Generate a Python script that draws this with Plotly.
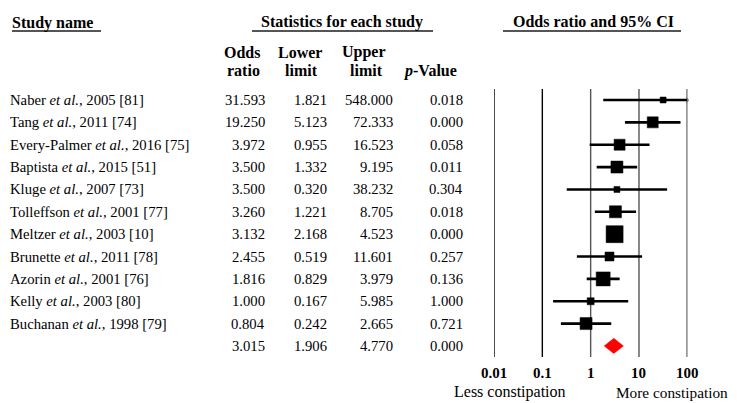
import math
import plotly.graph_objects as go

# ---------------- data ----------------
studies = [
    "Naber <i>et al.</i>, 2005 [81]",
    "Tang <i>et al.</i>, 2011 [74]",
    "Every-Palmer <i>et al.</i>, 2016 [75]",
    "Baptista <i>et al.</i>, 2015 [51]",
    "Kluge <i>et al.</i>, 2007 [73]",
    "Tolleffson <i>et al.</i>, 2001 [77]",
    "Meltzer <i>et al.</i>, 2003 [10]",
    "Brunette <i>et al.</i>, 2011 [78]",
    "Azorin <i>et al.</i>, 2001 [76]",
    "Kelly <i>et al.</i>, 2003 [80]",
    "Buchanan <i>et al.</i>, 1998 [79]",
]
odds = [31.593, 19.250, 3.972, 3.500, 3.500, 3.260, 3.132, 2.455, 1.816, 1.000, 0.804]
lower = [1.821, 5.123, 0.955, 1.332, 0.320, 1.221, 2.168, 0.519, 0.829, 0.167, 0.242]
upper = [548.000, 72.333, 16.523, 9.195, 38.232, 8.705, 4.523, 11.601, 3.979, 5.985, 2.665]
pvals = [0.018, 0.000, 0.058, 0.011, 0.304, 0.018, 0.000, 0.257, 0.136, 1.000, 0.721]
# relative study weight (drawn as box size)
weight = [6, 11, 11, 12, 6, 12, 17, 9, 14, 7, 12]

summary_or, summary_lo, summary_hi, summary_p = 3.015, 1.906, 4.770, 0.000

tick_vals = [0.01, 0.1, 1, 10, 100]
tick_text = ["0.01", "0.1", "1", "10", "100"]

# ---------------- layout helpers ----------------
WIN_W, WIN_H = 737, 403
OFF = 8                      # page body margin
W, H = WIN_W - OFF, WIN_H - OFF
FONT = "Liberation Serif, Times New Roman, serif"
AX_MIN, AX_MAX = 0.01, 100


def px_x(p):
    return (p - OFF) / W


def px_y(p):
    return 1 - (p - OFF) / H


n = len(studies)
rows = list(range(n))
sum_row = n

fig = go.Figure()

# reference vertical lines
black_x, black_y, grey_x, grey_y = [], [], [], []
for t in tick_vals:
    if t in (1, 10):
        grey_x += [t, t, None]
        grey_y += [-0.49, sum_row + 0.49, None]
    else:
        black_x += [t, t, None]
        black_y += [-0.49, sum_row + 0.49, None]
fig.add_trace(go.Scatter(x=black_x, y=black_y, mode="lines",
                         line=dict(color="black", width=1.4), hoverinfo="skip"))
fig.add_trace(go.Scatter(x=grey_x, y=grey_y, mode="lines",
                         line=dict(color="#555555", width=1.4), hoverinfo="skip"))

# confidence intervals
ci_x, ci_y = [], []
for i in rows:
    ci_x += [max(lower[i], AX_MIN), min(upper[i], AX_MAX), None]
    ci_y += [i, i, None]
fig.add_trace(go.Scatter(x=ci_x, y=ci_y, mode="lines",
                         line=dict(color="black", width=2.6), hoverinfo="skip"))

# truncated CI arrow
trunc_x = [AX_MAX for i in rows if upper[i] > AX_MAX]
trunc_y = [i for i in rows if upper[i] > AX_MAX]
fig.add_trace(go.Scatter(x=trunc_x, y=trunc_y, mode="text", text=["›"] * len(trunc_x),
                         textposition="middle center",
                         textfont=dict(family=FONT, size=14, color="#666666"),
                         hoverinfo="skip", cliponaxis=False))

# study boxes
fig.add_trace(go.Scatter(x=odds, y=rows, mode="markers",
                         marker=dict(symbol="square", size=weight, color="black",
                                     opacity=1, line=dict(width=0.5, color="black")),
                         hoverinfo="skip"))

# summary diamond
half = 0.34
fig.add_trace(go.Scatter(
    x=[summary_lo, summary_or, summary_hi, summary_or, summary_lo],
    y=[sum_row, sum_row - half, sum_row, sum_row + half, sum_row],
    mode="lines", fill="toself", fillcolor="#ff0000",
    line=dict(color="#ff0000", width=0.5), hoverinfo="skip"))

annotations = []


def add_text(text, x, y, xref="paper", yref="paper", xanchor="center",
             size=14.7, bold=False, color="black"):
    annotations.append(dict(
        text=f"<b>{text}</b>" if bold else text,
        x=x, y=y, xref=xref, yref=yref, xanchor=xanchor, yanchor="middle",
        showarrow=False, borderpad=0, borderwidth=0,
        font=dict(family=FONT, size=size, color=color)))


# table body
col_right = [265, 327, 393, 463]
for i in rows:
    add_text(studies[i], px_x(10), i, yref="y", xanchor="left")
    for v, xr in zip([odds[i], lower[i], upper[i], pvals[i]], col_right):
        add_text(f"{v:.3f}", px_x(xr), i, yref="y", xanchor="right")
for v, xr in zip([summary_or, summary_lo, summary_hi, summary_p], col_right):
    add_text(f"{v:.3f}", px_x(xr), sum_row, yref="y", xanchor="right")

# headers
HS = 16
add_text("Study name", px_x(12), px_y(23), xanchor="left", size=HS, bold=True)
add_text("Statistics for each study", px_x(342), px_y(22), size=HS, bold=True)
add_text("Odds ratio and 95% CI", px_x(593), px_y(22), size=HS, bold=True)
for label, cx in [("Odds", 242), ("Lower", 300), ("Upper", 364)]:
    add_text(label, px_x(cx), px_y(52), size=HS, bold=True)
for label, cx in [("ratio", 243), ("limit", 301), ("limit", 366)]:
    add_text(label, px_x(cx), px_y(71), size=HS, bold=True)
add_text("<i>p</i>-Value", px_x(430), px_y(71), size=HS, bold=True)

# axis tick labels (annotation x on a log axis is given in log10 units)
for tv, tt in zip(tick_vals, tick_text):
    add_text(tt, math.log10(tv), px_y(373), xref="x", size=15, bold=True)

add_text("Less constipation", px_x(510), px_y(392), size=16)
add_text("More constipation", px_x(616), px_y(392), xanchor="left", size=15.3)

shapes = []
for x0, x1 in [(12, 101), (252, 433), (503, 681)]:
    shapes.append(dict(type="line", xref="paper", yref="paper",
                       x0=px_x(x0), x1=px_x(x1), y0=px_y(31), y1=px_y(31),
                       line=dict(color="#555555", width=2)))

# y range so that row 0 sits at 100 px (window) and rows are 22.36 px apart
row_px0, row_step = 100 - OFF, 22.36
y_top = -row_px0 / row_step
y_bot = (H - row_px0) / row_step

fig.update_layout(
    width=W, height=H,
    margin=dict(l=0, r=0, t=0, b=0),
    paper_bgcolor="white", plot_bgcolor="white",
    showlegend=False,
    xaxis=dict(type="log", range=[-2, 2], domain=[px_x(494), px_x(687.3)],
               showgrid=False, zeroline=False, showticklabels=False, ticks="",
               showline=False),
    yaxis=dict(range=[y_bot, y_top], domain=[0, 1], showgrid=False,
               zeroline=False, showticklabels=False, ticks="", showline=False),
    annotations=annotations,
    shapes=shapes,
)

fig.write_html("out.html")
